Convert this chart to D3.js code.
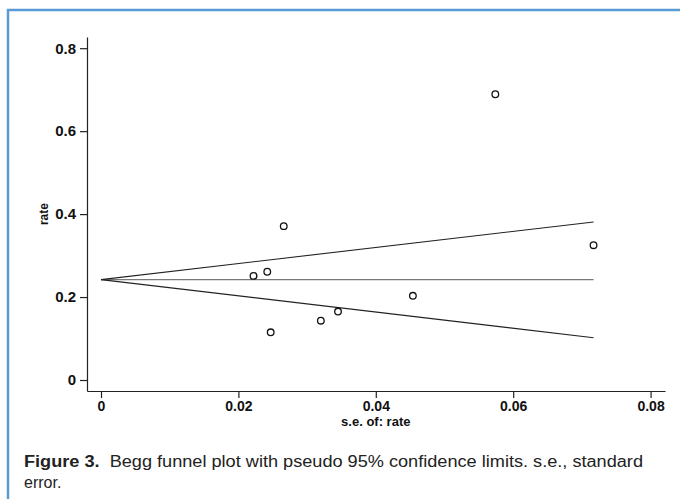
<!DOCTYPE html>
<html>
<head>
<meta charset="utf-8">
<script src="https://cdn.jsdelivr.net/npm/d3@7"></script>
<style>
  body { margin: 0; background: #fff; }
  svg { display: block; font-family: "Liberation Sans", Arial, sans-serif; }
</style>
</head>
<body>
<div id="chart"></div>
<script>
// study points: standard error and rate
const seValues = [0.0222, 0.0242, 0.0266, 0.0247, 0.0320, 0.0345, 0.0454, 0.0574, 0.0717];
const rateValues = [0.251, 0.261, 0.371, 0.115, 0.143, 0.165, 0.203, 0.689, 0.325];

// pooled estimate and pseudo 95% limits, read at se = 0 and se = max
const limitSe = [0, 0.0717];
const pooledRate = [0.242, 0.242];
const upperLimit = [0.242, 0.381];
const lowerLimit = [0.242, 0.102];

const xTicks = [0, 0.02, 0.04, 0.06, 0.08];
const yTicks = [0, 0.2, 0.4, 0.6, 0.8];

const width = 680, height = 499;

const svg = d3.select("#chart").append("svg")
  .attr("width", width)
  .attr("height", height);

// blue frame (top + left)
svg.append("path")
  .attr("d", "M8,499 V10 H680")
  .attr("fill", "none")
  .attr("stroke", "#5b9bd5")
  .attr("stroke-width", 2.5);

const xScale = d3.scaleLinear().domain([-0.00204, 0.0821]).range([87, 665]);
const yScale = d3.scaleLinear().domain([-0.0265, 0.827]).range([391, 37]);

const fmt = d => d === 0 ? "0" : String(d);

const xAxis = svg.append("g")
  .attr("transform", `translate(0,${yScale.range()[0]})`)
  .call(d3.axisBottom(xScale).tickValues(xTicks).tickFormat(fmt)
    .tickSizeInner(7).tickSizeOuter(0).tickPadding(3));

const yAxis = svg.append("g")
  .attr("transform", `translate(${xScale.range()[0]},0)`)
  .call(d3.axisLeft(yScale).tickValues(yTicks).tickFormat(fmt)
    .tickSizeInner(7).tickSizeOuter(0).tickPadding(4));

svg.selectAll(".domain, .tick line").attr("stroke", "#222").attr("stroke-width", 1.2);
svg.selectAll(".tick text")
  .attr("fill", "#111")
  .style("font-weight", "bold")
  .style("font-family", "'Liberation Sans', Arial, sans-serif");
xAxis.selectAll(".tick text").style("font-size", "14px");
yAxis.selectAll(".tick text").style("font-size", "15px");

// axis titles
svg.append("text")
  .attr("transform", `translate(48,${yScale(0.4)}) rotate(-90)`)
  .attr("text-anchor", "middle")
  .style("font-size", "12px")
  .style("font-weight", "bold")
  .attr("fill", "#111")
  .text("rate");

svg.append("text")
  .attr("x", xScale(0.04))
  .attr("y", 426)
  .attr("text-anchor", "middle")
  .style("font-size", "13px")
  .style("font-weight", "bold")
  .attr("fill", "#111")
  .text("s.e. of: rate");

// funnel lines
const line = d3.line().x(d => xScale(d[0])).y(d => yScale(d[1]));

svg.append("path")
  .attr("d", line(d3.zip(limitSe, pooledRate)))
  .attr("fill", "none")
  .attr("stroke", "#777")
  .attr("stroke-width", 1.2);

[upperLimit, lowerLimit].forEach(lim => {
  svg.append("path")
    .attr("d", line(d3.zip(limitSe, lim)))
    .attr("fill", "none")
    .attr("stroke", "#222")
    .attr("stroke-width", 1.1);
});

// points
svg.append("g").selectAll("circle")
  .data(d3.zip(seValues, rateValues))
  .join("circle")
  .attr("cx", d => xScale(d[0]))
  .attr("cy", d => yScale(d[1]))
  .attr("r", 3.3)
  .attr("fill", "#fff")
  .attr("stroke", "#111")
  .attr("stroke-width", 1.3);

// caption
const cap = svg.append("text")
  .attr("x", 24)
  .attr("y", 467)
  .style("font-size", "16px")
  .attr("fill", "#222");
cap.append("tspan").style("font-weight", "bold").text("Figure 3.");
cap.append("tspan").text("\u00a0\u00a0Begg funnel plot with pseudo 95% confidence limits. s.e., standard");
cap.attr("textLength", 619).attr("lengthAdjust", "spacingAndGlyphs");

svg.append("text")
  .attr("x", 24)
  .attr("y", 488)
  .style("font-size", "16px")
  .attr("fill", "#222")
  .text("error.");
</script>
</body>
</html>
